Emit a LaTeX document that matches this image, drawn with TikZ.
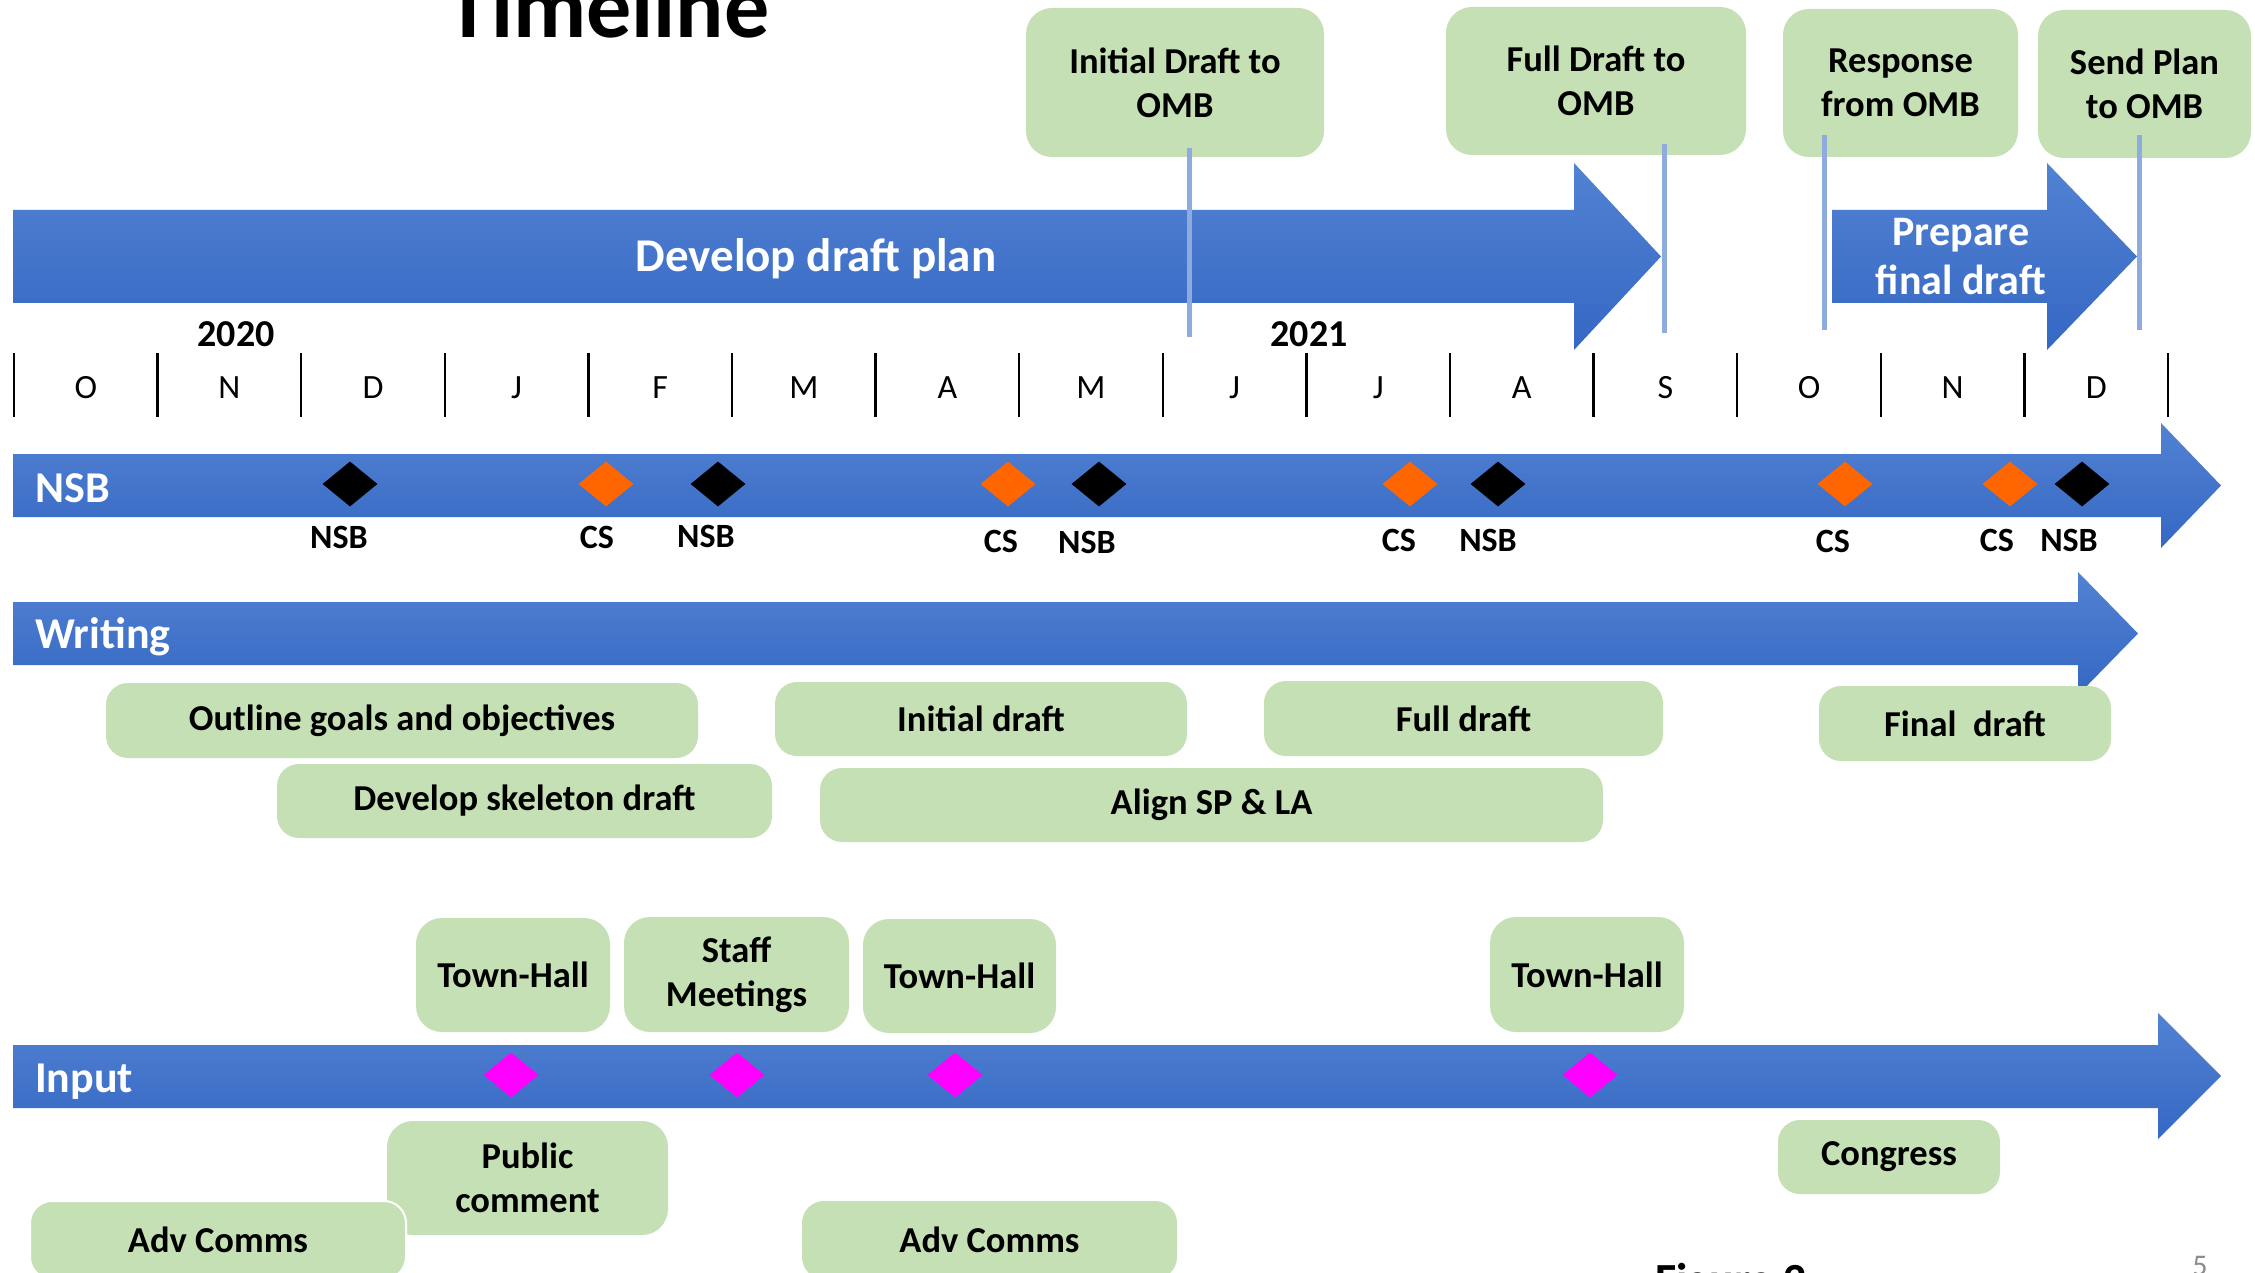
\documentclass[tikz,border=0pt]{standalone}
\usepackage{fontspec}
\setmainfont{Carlito}
\usetikzlibrary{shapes.geometric}
\definecolor{arrTop}{HTML}{5282D2}
\definecolor{arrBot}{HTML}{3568C4}
\definecolor{boxgreen}{HTML}{C5E0B4}
\definecolor{omblue}{HTML}{8FAADC}
\definecolor{csorange}{HTML}{FF6600}
\definecolor{inmag}{HTML}{FF00FF}
\definecolor{pagegray}{HTML}{8C8C8C}
\begin{document}
\begin{tikzpicture}[x=1pt,y=-1pt,
  arrowbar/.style={top color=arrTop,bottom color=arrBot,draw=none},
  barlabel/.style={text=white,font=\fontsize{44}{50}\selectfont\bfseries,anchor=base west,inner sep=0pt},
  gbox/.style={fill=boxgreen,rounded corners=26pt,align=center,inner sep=0pt,font=\fontsize{36.5}{44}\selectfont\bfseries},
  wbox/.style={gbox,rounded corners=22pt},
  monthlbl/.style={font=\fontsize{34}{40}\selectfont,anchor=base,inner sep=0pt},
  yearlbl/.style={font=\fontsize{38}{44}\selectfont\bfseries,anchor=base,inner sep=0pt},
  mlabel/.style={font=\fontsize{34}{40}\selectfont\bfseries,anchor=base,inner sep=0pt},
  dmd/.style={shape=diamond,minimum width=55pt,minimum height=45pt,inner sep=0pt,draw=none},
  nsbd/.style={dmd,fill=black},
  csd/.style={dmd,fill=csorange},
  ind/.style={dmd,fill=inmag},
  ombline/.style={draw=omblue,line width=5pt},
  tickln/.style={line width=2.5pt}]
\useasboundingbox (0,0) rectangle (2255,1273);
\fill[white] (0,0) rectangle (2255,1273);
\clip (0,0) rectangle (2255,1273);

% title
\node[font=\fontsize{90}{100}\selectfont\bfseries,anchor=base,inner sep=0pt] (title) at (608,38) {Timeline};

% Develop draft plan arrow
\path[arrowbar] (13,210) -- (1574,210) -- (1574,163) -- (1661,256.5) -- (1574,350) -- (1574,303) -- (13,303) -- cycle;
\node[text=white,font=\fontsize{47}{52}\selectfont\bfseries,anchor=base,inner sep=0pt] (ddp) at (816,272) {Develop draft plan};

% Prepare final draft arrow
\path[arrowbar] (1832,210) -- (2047,210) -- (2047,163) -- (2137,256.5) -- (2047,350) -- (2047,303) -- (1832,303) -- cycle;
\node[text=white,font=\fontsize{42}{49}\selectfont\bfseries,align=center,anchor=base,inner sep=0pt] (pfd) at (1961,295) {Prepare\\final draft};

% callouts
\node[gbox,minimum width=298pt,minimum height=149pt] (idomb) at (1175,82.5) {Initial Draft to\\OMB};
\node[gbox,minimum width=300pt,minimum height=148pt] (fdomb) at (1596,81) {Full Draft to\\OMB};
\node[gbox,minimum width=235pt,minimum height=148pt] (romb) at (1900.5,83) {Response\\from OMB};
\node[gbox,minimum width=213pt,minimum height=148pt] (somb) at (2144.5,84) {Send Plan\\to OMB};

\coordinate (l1a) at (1189,148); \coordinate (l1b) at (1189,337);
\coordinate (l2a) at (1664,144); \coordinate (l2b) at (1664,333);
\coordinate (l3a) at (1824,135); \coordinate (l3b) at (1824,330);
\coordinate (l4a) at (2139,135); \coordinate (l4b) at (2139,330);
\draw[ombline] (l1a) -- (l1b);
\draw[ombline] (l2a) -- (l2b);
\draw[ombline] (l3a) -- (l3b);
\draw[ombline] (l4a) -- (l4b);

% years and months
\node[yearlbl] (y2020) at (236,347) {2020};
\node[yearlbl] (y2021) at (1309,347) {2021};
\foreach \i in {0,...,15} \draw[tickln] ({14+143.6*\i},353) -- ({14+143.6*\i},417);
\foreach \m [count=\i from 0] in {O,N,D,J,F,M,A,M,J,J,A,S,O,N,D}
  \node[monthlbl] (mon\i) at ({14+143.6*(\i+0.5)},398) {\m};

% NSB arrow
\path[arrowbar] (13,454) -- (2161,454) -- (2161,423) -- (2221,485.5) -- (2161,548) -- (2161,517) -- (13,517) -- cycle;
\node[barlabel] (nsbl) at (35,502) {NSB};
\node[nsbd] (d1) at (350,484) {};
\node[csd]  (d2) at (606,484) {};
\node[nsbd] (d3) at (718,484) {};
\node[csd]  (d4) at (1008,484) {};
\node[nsbd] (d5) at (1099,484) {};
\node[csd]  (d6) at (1410,484) {};
\node[nsbd] (d7) at (1498,484) {};
\node[csd]  (d8) at (1845,484) {};
\node[csd]  (d9) at (2010,484) {};
\node[nsbd] (d10) at (2082,484) {};
\node[mlabel] (t1) at (339,548) {NSB};
\node[mlabel] (t2) at (597,548) {CS};
\node[mlabel] (t3) at (706,547) {NSB};
\node[mlabel] (t4) at (1001,552) {CS};
\node[mlabel] (t5) at (1087,553) {NSB};
\node[mlabel] (t6) at (1399,551) {CS};
\node[mlabel] (t7) at (1488,551) {NSB};
\node[mlabel] (t8) at (1833,552) {CS};
\node[mlabel] (t9) at (1997,551) {CS};
\node[mlabel] (t10) at (2069,551) {NSB};

% Writing arrow
\path[arrowbar] (13,602) -- (2078,602) -- (2078,572) -- (2138,633.5) -- (2078,695) -- (2078,665) -- (13,665) -- cycle;
\node[barlabel] (wrl) at (35,648) {Writing};
\node[wbox,minimum width=592pt,minimum height=75pt] (outl) at (402,720.5) {Outline goals and objectives};
\node[wbox,minimum width=495pt,minimum height=74pt] (skel) at (524.5,801) {Develop skeleton draft};
\node[wbox,minimum width=412pt,minimum height=74pt] (inid) at (981,719) {Initial draft};
\node[wbox,minimum width=783pt,minimum height=74pt] (align) at (1211.5,805) {Align SP \& LA};
\node[wbox,minimum width=399pt,minimum height=75pt] (fulld) at (1463.5,718.5) {Full draft};
\node[wbox,minimum width=292pt,minimum height=75pt] (find) at (1965,723.5) {Final\ \ draft};

% Input arrow
\path[arrowbar] (13,1045) -- (2158,1045) -- (2158,1013) -- (2221,1076) -- (2158,1139) -- (2158,1108) -- (13,1108) -- cycle;
\node[barlabel] (inl) at (35,1092) {Input};
\node[ind] (p1) at (511,1075) {};
\node[ind] (p2) at (737,1075) {};
\node[ind] (p3) at (955,1075) {};
\node[ind] (p4) at (1590,1075) {};

\node[gbox,minimum width=194pt,minimum height=114pt] (th1) at (513,975) {Town-Hall};
\node[gbox,minimum width=225pt,minimum height=115pt] (staff) at (736.5,974.5) {Staff\\Meetings};
\node[gbox,minimum width=193pt,minimum height=114pt] (th2) at (959.5,976) {Town-Hall};
\node[gbox,minimum width=194pt,minimum height=115pt] (th3) at (1587,974.5) {Town-Hall};
\node[gbox,minimum width=281pt,minimum height=114pt] (pub) at (527.5,1178) {Public\\comment};
\node[wbox,draw=white,line width=2pt,minimum width=376pt,minimum height=78pt] (adv1) at (218,1240) {Adv Comms};
\node[wbox,minimum width=375pt,minimum height=78pt] (adv2) at (989.5,1240) {Adv Comms};
\node[wbox,minimum width=222pt,minimum height=74pt] (cong) at (1889,1157) {Congress};

% footer
\node[font=\fontsize{46}{52}\selectfont\bfseries,anchor=base,inner sep=0pt] (fig) at (1731,1295) {Figure 2};
\node[font=\fontsize{30}{36}\selectfont,text=pagegray,anchor=base,inner sep=0pt] (pg) at (2200,1275) {5};
\end{tikzpicture}
\end{document}
